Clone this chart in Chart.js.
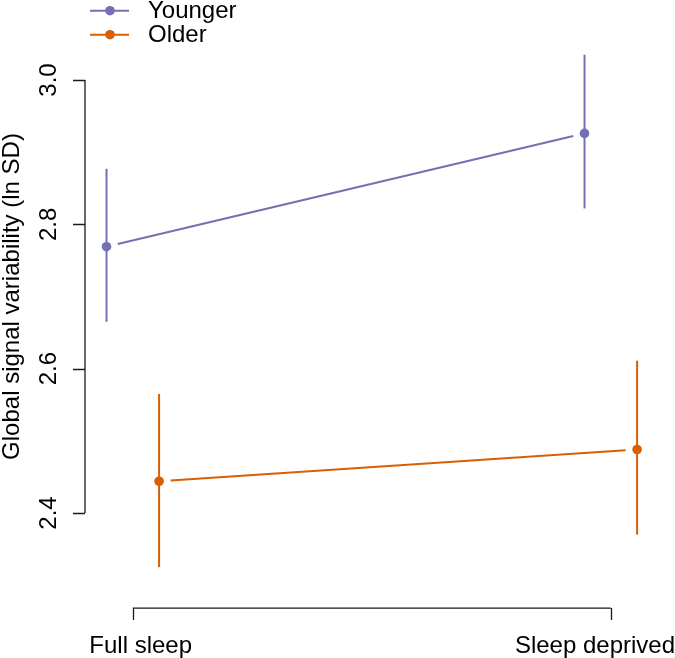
<!DOCTYPE html>
<html>
<head>
<meta charset="utf-8">
<script src="https://cdn.jsdelivr.net/npm/chart.js@4"></script>
<style>
  html, body { margin: 0; padding: 0; background: #ffffff; }
  #c { display: block; }
</style>
</head>
<body>
<canvas id="c" width="675" height="658"></canvas>
<script>
// ---- Data ----
const conditions = ['Full sleep', 'Sleep deprived'];
const groups = ['Younger', 'Older'];
const groupColors = ['#7570B3', '#D95F02'];

const youngerMean  = [2.769, 2.926];
const youngerLower = [2.665, 2.822];
const youngerUpper = [2.877, 3.035];

const olderMean  = [2.444, 2.488];
const olderLower = [2.325, 2.370];
const olderUpper = [2.565, 2.611];

const yTicks = [2.4, 2.6, 2.8, 3.0];
const yTickLabels = ['2.4', '2.6', '2.8', '3.0'];
const yTitle = 'Global signal variability (ln SD)';

// ---- Build datasets ----
const DODGE = 0.055;
const FONT = '"Liberation Sans", Arial, Helvetica, sans-serif';
const seriesList = [
  { name: groups[0], color: groupColors[0], mean: youngerMean, lo: youngerLower, hi: youngerUpper, off: -DODGE },
  { name: groups[1], color: groupColors[1], mean: olderMean,   lo: olderLower,   hi: olderUpper,   off:  DODGE }
];

const datasets = [];
seriesList.forEach(s => {
  // error bars
  conditions.forEach((c, i) => {
    const x = i + 1 + s.off;
    datasets.push({
      type: 'line',
      label: s.name + ' ' + c + ' CI',
      data: [{ x: x, y: s.lo[i] }, { x: x, y: s.hi[i] }],
      borderColor: s.color,
      borderWidth: 2,
      pointRadius: 0,
      showLine: true,
      fill: false,
      clip: false
    });
  });
  // points
  datasets.push({
    type: 'scatter',
    label: s.name,
    data: conditions.map((c, i) => ({ x: i + 1 + s.off, y: s.mean[i] })),
    backgroundColor: s.color,
    borderColor: s.color,
    borderWidth: 0,
    pointRadius: 4.8,
    pointHoverRadius: 4.8,
    isMean: true,
    seriesColor: s.color,
    clip: false
  });
});

// ---- Plugin: R-style axes, gapped connecting lines, legend, labels ----
const rStyle = {
  id: 'rStyle',
  beforeDatasetsDraw(chart) {
    const ctx = chart.ctx;
    const xs = chart.scales.x, ys = chart.scales.y;
    const GAP = 11.5;
    ctx.save();
    chart.data.datasets.forEach(ds => {
      if (!ds.isMean) return;
      ctx.strokeStyle = ds.seriesColor;
      ctx.lineWidth = 2;
      for (let i = 0; i < ds.data.length - 1; i++) {
        const x1 = xs.getPixelForValue(ds.data[i].x), y1 = ys.getPixelForValue(ds.data[i].y);
        const x2 = xs.getPixelForValue(ds.data[i + 1].x), y2 = ys.getPixelForValue(ds.data[i + 1].y);
        const dx = x2 - x1, dy = y2 - y1, L = Math.hypot(dx, dy);
        const ux = dx / L, uy = dy / L;
        ctx.beginPath();
        ctx.moveTo(x1 + ux * GAP, y1 + uy * GAP);
        ctx.lineTo(x2 - ux * GAP, y2 - uy * GAP);
        ctx.stroke();
      }
    });
    ctx.restore();
  },
  afterDraw(chart) {
    const ctx = chart.ctx;
    const xs = chart.scales.x, ys = chart.scales.y;
    const area = chart.chartArea;
    ctx.save();
    ctx.strokeStyle = '#1a1a1a';
    ctx.fillStyle = '#000000';
    ctx.lineWidth = 1.3;

    // Y axis
    const yAxisX = area.left;
    const yTop = ys.getPixelForValue(yTicks[yTicks.length - 1]);
    const yBot = ys.getPixelForValue(yTicks[0]);
    ctx.beginPath();
    ctx.moveTo(yAxisX, yTop);
    ctx.lineTo(yAxisX, yBot);
    yTicks.forEach(t => {
      const py = Math.round(ys.getPixelForValue(t)) + 0.5;
      ctx.moveTo(yAxisX, py);
      ctx.lineTo(yAxisX - 12, py);
    });
    ctx.stroke();

    ctx.font = '24px ' + FONT;
    ctx.textAlign = 'center';
    ctx.textBaseline = 'alphabetic';
    yTicks.forEach((t, i) => {
      const py = ys.getPixelForValue(t);
      ctx.save();
      ctx.translate(56, py);
      ctx.rotate(-Math.PI / 2);
      ctx.fillText(yTickLabels[i], 0, 0);
      ctx.restore();
    });

    // Y title
    ctx.save();
    ctx.translate(18.5, (yTop + yBot) / 2);
    ctx.rotate(-Math.PI / 2);
    ctx.fillText(yTitle, 0, 0);
    ctx.restore();

    // X axis
    const xAxisY = area.bottom + 8.5;
    const xl = xs.getPixelForValue(1), xr = xs.getPixelForValue(conditions.length);
    ctx.beginPath();
    ctx.moveTo(xl, xAxisY);
    ctx.lineTo(xr, xAxisY);
    conditions.forEach((c, i) => {
      const px = Math.round(xs.getPixelForValue(i + 1)) + 0.5;
      ctx.moveTo(px, xAxisY);
      ctx.lineTo(px, xAxisY + 12);
    });
    ctx.stroke();

    ctx.textBaseline = 'alphabetic';
    const labelBase = xAxisY + 44.5;
    // first label slightly right of its tick, last label kept inside the canvas
    ctx.textAlign = 'left';
    ctx.fillText(conditions[0], xs.getPixelForValue(1) - 43.5, labelBase);
    ctx.textAlign = 'right';
    ctx.fillText(conditions[conditions.length - 1], chart.width, labelBase);

    // Legend
    ctx.font = '24px ' + FONT;
    ctx.textAlign = 'left';
    ctx.textBaseline = 'middle';
    seriesList.forEach((s, i) => {
      const ly = 10.7 + i * 24;
      ctx.strokeStyle = s.color;
      ctx.lineWidth = 2;
      ctx.beginPath();
      ctx.moveTo(90, ly);
      ctx.lineTo(129, ly);
      ctx.stroke();
      ctx.fillStyle = s.color;
      ctx.beginPath();
      ctx.arc(110, ly, 4.8, 0, Math.PI * 2);
      ctx.fill();
      ctx.fillStyle = '#000000';
      ctx.fillText(s.name, 148, ly + 1);
    });
    ctx.restore();
  }
};

new Chart(document.getElementById('c'), {
  type: 'scatter',
  data: { datasets: datasets },
  options: {
    responsive: false,
    animation: false,
    devicePixelRatio: 1,
    layout: { padding: { left: 85, right: 16.4, top: 36.7, bottom: 58.4 } },
    plugins: { legend: { display: false }, tooltip: { enabled: false } },
    scales: {
      x: { type: 'linear', min: 0.9, max: 2.1, display: false },
      y: { type: 'linear', min: 2.28, max: 3.06, display: false }
    }
  },
  plugins: [rStyle]
});
</script>
</body>
</html>
